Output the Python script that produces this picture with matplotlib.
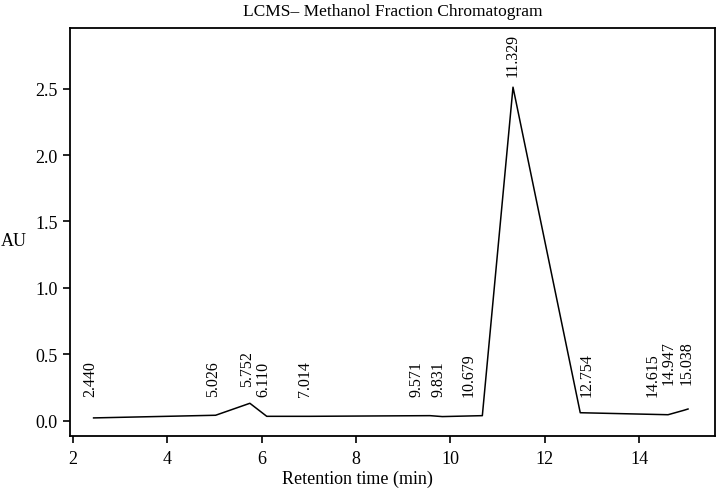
import numpy as np
import matplotlib
matplotlib.use('Agg')
import matplotlib.pyplot as plt

##------------data-----------------##
ret_time = [2.440, 5.026, 5.752, 6.110, 7.014, 9.571, 9.831, 10.679,
            11.329, 12.754, 14.615, 14.947, 15.038]
absorb = [0.023, 0.043, 0.133, 0.035, 0.035, 0.040, 0.033, 0.040,
          2.51, 0.062, 0.047, 0.080, 0.090]
peak_labels = ['%.3f' % t for t in ret_time]

# label nudges (pixels) so the rotated labels don't collide
lab_dx = [-3, -3, -3, -3, -4, -14, -4, -14, 0, 6, -15, -15, -1]
lab_dy = [22, 19, 17, 20, 20, 20, 21, 20, 11, 17, 19, 26, 25]

##------------figure-----------------##
plt.rcParams['font.family'] = ['Liberation Serif', 'DejaVu Serif']

W, H = 717, 489
fig = plt.figure(figsize=(W/100, H/100), dpi=100)
ax = fig.add_axes([70/W, 1-437/H, (715-70)/W, (437-29)/H])

ax.plot(ret_time, absorb, color='black', lw=1.1)
for t, a, s, dx, dy in zip(ret_time, absorb, peak_labels, lab_dx, lab_dy):
    ax.annotate(s, xy=(t, a), xytext=(dx, dy), textcoords='offset pixels',
                rotation=90, ha='center', va='bottom', fontsize=11.5)

ax.set_xlim(1.94, 15.61)
ax.set_ylim(-0.113, 2.955)
ax.set_xticks([2, 4, 6, 8, 10, 12, 14])
ax.set_yticks([0.0, 0.5, 1.0, 1.5, 2.0, 2.5])
ax.set_yticklabels(['%.1f' % v for v in ax.get_yticks()])
ax.tick_params(direction='out', length=5, width=1.2, labelsize=13)
ax.tick_params(axis='x', pad=5)
ax.tick_params(axis='y', pad=4)
for sp in ax.spines.values():
    sp.set_linewidth(1.3)

ax.set_title('LCMS\u2013 Methanol Fraction Chromatogram', fontsize=12.5, pad=9)
ax.set_xlabel('Retention time (min)', fontsize=13, va='center')
ax.xaxis.set_label_coords(0.445, -0.105)
ax.set_ylabel('AU', rotation=0, ha='left', va='center', fontsize=13)
ax.yaxis.set_label_coords(-0.107, 0.478)

fig.savefig('out.png', dpi=100)
